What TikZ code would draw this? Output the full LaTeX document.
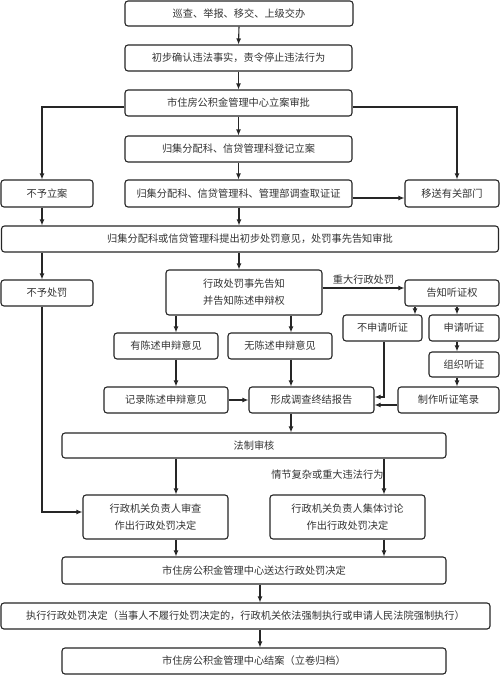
\documentclass[tikz,border=0pt]{standalone}
\usepackage{fontspec}
\newfontfamily\cjk{Noto Sans CJK SC}
\usetikzlibrary{arrows.meta,calc}
\begin{document}
\begin{tikzpicture}[x=1pt,y=-1pt,
  box/.style={draw=black!85,line width=1.1pt,rounded corners=3pt,inner sep=0pt,align=center,
    font=\cjk\fontsize{10.2}{17}\selectfont,text=black!80},
  arr/.style={draw=black!85,line width=1.1pt,-{Latex[length=6pt,width=5pt]}},
  ln/.style={draw=black!85,line width=1.1pt},
  lab/.style={font=\cjk\fontsize{10.2}{12}\selectfont,text=black!80,inner sep=1pt}]
\useasboundingbox (0,0) rectangle (500,675);
\fill[white] (0,0) rectangle (500,675);
\def\bx#1#2#3#4#5#6{\node[box,minimum width=#4,minimum height=#5] (#1) at (#2,#3) {#6};}
\bx{b1}{239}{13.5}{228}{25}{巡查、举报、移交、上级交办}
\bx{b2}{238.5}{58}{227}{26}{初步确认违法事实，责令停止违法行为}
\bx{b3}{238.5}{103}{227}{26}{市住房公积金管理中心立案审批}
\bx{b4}{238.5}{149}{227}{26}{归集分配科、信贷管理科登记立案}
\bx{b5}{238.5}{193.5}{227}{27}{归集分配科、信贷管理科、管理部调查取证证}
\bx{nolian}{47}{193.5}{92}{27}{不予立案}
\bx{yisong}{452}{193.5}{94}{27}{移送有关部门}
\bx{b6}{250}{239}{497}{26}{归集分配科或信贷管理科提出初步处罚意见，处罚事先告知审批}
\bx{bufa}{47}{293}{92}{26}{不予处罚}
\bx{gaozhi}{244}{292.5}{156}{45}{行政处罚事先告知\\并告知陈述申辩权}
\bx{ting}{452}{293}{94}{26}{告知听证权}
\bx{busq}{382.5}{328}{79}{26}{不申请听证}
\bx{sq}{464}{328}{70}{26}{申请听证}
\bx{zuzhi}{464}{364.5}{70}{25}{组织听证}
\bx{zhizuo}{448.5}{400}{101}{26}{制作听证笔录}
\bx{you}{166}{346}{104}{26}{有陈述申辩意见}
\bx{wu}{280}{346}{104}{26}{无陈述申辩意见}
\bx{jilu}{166}{400}{124}{26}{记录陈述申辩意见}
\bx{xc}{311.5}{400}{125}{26}{形成调查终结报告}
\bx{fazhi}{254}{445.5}{384}{25}{法制审核}
\bx{shencha}{155.5}{517}{145}{44}{行政机关负责人审查\\作出行政处罚决定}
\bx{jiti}{347.5}{517}{155}{44}{行政机关负责人集体讨论\\作出行政处罚决定}
\bx{songda}{254}{570.5}{384}{27}{市住房公积金管理中心送达行政处罚决定}
\bx{zhixing}{245.5}{616}{489}{26}{执行行政处罚决定（当事人不履行处罚决定的，行政机关依法强制执行或申请人民法院强制执行）}
\bx{jiean}{254}{661}{384}{26}{市住房公积金管理中心结案（立卷归档）}
% coordinates for vertical lines
\coordinate (XL) at (42,0);
\coordinate (XC) at (239,0);
\coordinate (XR) at (457,0);
\coordinate (X176) at (176,0);
\coordinate (X291) at (291,0);
\coordinate (X384) at (384,0);
\coordinate (X415) at (415,0);
\coordinate (X260) at (260,0);
% main column
\draw[arr] (b1.south) -- (b2.north);
\draw[arr] (b2.south) -- (b3.north);
\draw[arr] (b3.south) -- (b4.north);
\draw[arr] (b4.south) -- (b5.north);
\coordinate (B3W) at (b3.west |- 0,107);
\coordinate (B3E) at (b3.east |- 0,107);
\draw[arr] (B3W) -| (nolian.north -| XL);
\draw[arr] (B3E) -| (yisong.north -| XR);
\coordinate (B5E) at (b5.east |- 0,198);
\draw[arr] (B5E) -- (B5E -| yisong.west);
\draw[arr] (nolian.south -| XL) -- (b6.north -| XL);
\draw[arr] (b5.south -| XC) -- (b6.north -| XC);
\draw[arr] (b6.south -| XL) -- (bufa.north -| XL);
\draw[arr] (b6.south -| XC) -- (gaozhi.north -| XC);
% hearing branch
\coordinate (G) at (gaozhi.east |- 0,288);
\draw[arr] (G) -- (G -| ting.west) node[lab,midway,above=2pt] {重大行政处罚};
\draw[arr] (ting.south -| X415) -- (busq.north -| X415);
\draw[arr] (ting.south -| XR) -- (sq.north -| XR);
\draw[arr] (sq.south -| XR) -- (zuzhi.north -| XR);
\draw[arr] (zuzhi.south -| XR) -- (zhizuo.north -| XR);
\coordinate (BS) at (384,397);
\draw[arr] (busq.south -| X384) -- (BS) -- (BS -| xc.east);
\coordinate (ZW) at (zhizuo.west |- 0,405);
\draw[arr] (ZW) -- (ZW -| xc.east);
% statement branch
\draw[arr] (gaozhi.south -| X176) -- (you.north -| X176);
\draw[arr] (gaozhi.south -| X291) -- (wu.north -| X291);
\draw[arr] (you.south -| X176) -- (jilu.north -| X176);
\draw[arr] (wu.south -| X291) -- (xc.north -| X291);
\draw[arr] (jilu.east) -- (xc.west);
\draw[arr] (xc.south -| X291) -- (fazhi.north -| X291);
% decision
\draw[arr] (fazhi.south -| X176) -- (shencha.north -| X176);
\draw[arr] (fazhi.south -| X384) -- (jiti.north -| X384)
  node[lab,pos=0.45,anchor=east,inner sep=0pt] {情节复杂或重大违法行为};
\coordinate (BF) at (42,512);
\draw[arr] (bufa.south -| XL) -- (BF) -- (BF -| shencha.west);
\draw[arr] (shencha.south -| X176) -- (songda.north -| X176);
\draw[arr] (jiti.south -| X384) -- (songda.north -| X384);
\draw[arr] (songda.south -| X260) -- (zhixing.north -| X260);
\draw[arr] (zhixing.south -| X260) -- (jiean.north -| X260);
\end{tikzpicture}
\end{document}
